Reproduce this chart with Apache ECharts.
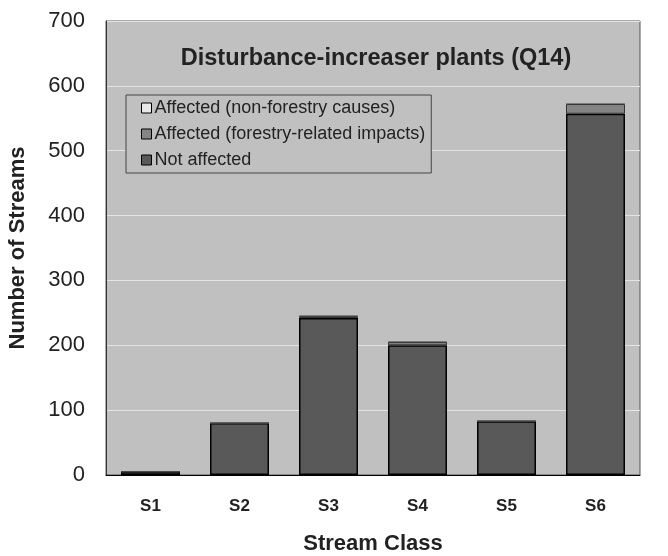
<!DOCTYPE html>
<html><head><meta charset="utf-8">
<script src="https://cdn.jsdelivr.net/npm/echarts@6/dist/echarts.min.js"></script>
<style>html,body{margin:0;padding:0;background:#fff}#c{width:668px;height:556px}</style>
</head><body><div id="c"></div>
<script>
var categories = ['S1','S2','S3','S4','S5','S6'];
var notAffected = [5, 80, 242, 200, 83, 557];
var forestry = [0, 0, 3, 5, 0, 15];
var nonForestry = [0, 0, 1, 1, 0, 1];
var yTicks = [0,100,200,300,400,500,600,700];
var titleText = 'Disturbance-increaser plants (Q14)';
var names = ['Affected (non-forestry causes)','Affected (forestry-related impacts)','Not affected'];

var F = 'Liberation Sans, Arial, sans-serif';
var chart = echarts.init(document.getElementById('c'));
chart.setOption({
  animation: false,
  backgroundColor: '#fff',
  title: {text: titleText, left: 371, textAlign: 'center', top: 42,
    textStyle: {fontFamily: F, fontSize: 23.5, fontWeight: 'bold', color: '#222'}},
  legend: {
    data: names, orient: 'vertical', left: 126, top: 95,
    backgroundColor: '#c0c0c0', borderColor: '#444', borderWidth: 1,
    padding: [4, 6, 4, 15], itemGap: 8, itemWidth: 10, itemHeight: 10,
    icon: 'rect',
    itemStyle: {borderColor: '#000', borderWidth: 1},
    textStyle: {fontFamily: F, fontSize: 18, color: '#222', padding: [0,0,0,-2]}
  },
  grid: {left: 106, right: 28, top: 21, bottom: 81, show: true, outerBoundsMode: 'none',
    containLabel: false,
    backgroundColor: '#c0c0c0', borderColor: '#555', borderWidth: 1},
  xAxis: {type: 'category', data: categories,
    name: 'Stream Class', nameLocation: 'middle', nameGap: 58,
    nameTextStyle: {fontFamily: F, fontSize: 22, fontWeight: 'bold', color: '#222'},
    axisLine: {lineStyle: {color: '#000', width: 1}}, axisTick: {show: false},
    axisLabel: {fontFamily: F, fontSize: 17, fontWeight: 'bold', color: '#222', margin: 23}},
  yAxis: {type: 'value', min: yTicks[0], max: yTicks[yTicks.length-1], interval: 100,
    name: 'Number of Streams', nameLocation: 'middle', nameGap: 77,
    nameTextStyle: {fontFamily: F, fontSize: 22, fontWeight: 'bold', color: '#222'},
    axisLine: {show: true, lineStyle: {color: '#333'}}, axisTick: {show: false},
    splitLine: {lineStyle: {color: '#e4e4e4', width: 1}},
    axisLabel: {fontFamily: F, fontSize: 22, color: '#222', margin: 21}},
  series: [
    {name: names[2], type: 'bar', stack: 's', data: notAffected, barWidth: 59,
      itemStyle: {color: '#595959', borderColor: '#000', borderWidth: 1.5}},
    {name: names[1], type: 'bar', stack: 's', data: forestry, barWidth: 59,
      itemStyle: {color: '#858585', borderColor: '#333', borderWidth: 1}},
    {name: names[0], type: 'bar', stack: 's', data: nonForestry, barWidth: 59,
      itemStyle: {color: '#e8e8e8', borderColor: '#555', borderWidth: 0.5}}
  ]
});
</script></body></html>
